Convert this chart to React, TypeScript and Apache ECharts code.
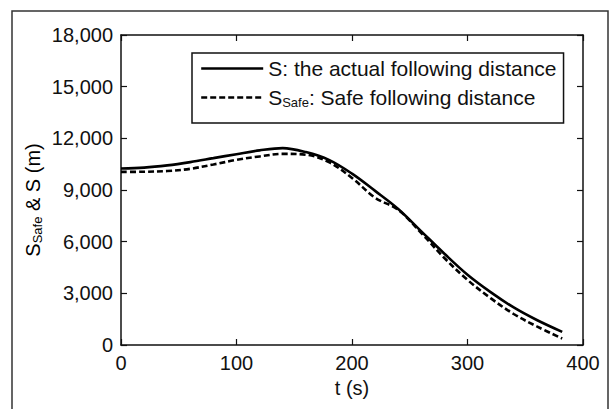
import React, { useEffect, useRef } from "react";
import * as echarts from "echarts";

const tValues = [0, 20, 40, 60, 80, 100, 120, 140, 160, 180, 200, 220, 240, 260, 280, 300, 320, 340, 360, 382];
const sValues = [10250, 10300, 10430, 10620, 10850, 11080, 11300, 11430, 11200, 10750, 9950, 8950, 7900, 6600, 5300, 4080, 3070, 2180, 1450, 760];
const safeValues = [10050, 10060, 10100, 10230, 10480, 10750, 10950, 11100, 11050, 10620, 9700, 8550, 7850, 6500, 5050, 3780, 2720, 1800, 1080, 380];
const xTicks = { min: 0, max: 400, interval: 100 };
const yTicks = { min: 0, max: 18000, interval: 3000 };
const sName = "S: the actual following distance";
const safeName = "SSafe: Safe following distance";

const FONT = "Liberation Sans";
const INK = "#111111";

export default function App() {
  const ref = useRef<HTMLDivElement>(null);
  useEffect(() => {
    if (!ref.current) return;
    const chart = echarts.init(ref.current, undefined, { renderer: "svg" });
    const axisCommon = {
      axisLine: { show: true, onZero: false, lineStyle: { color: INK, width: 1.5 } },
      axisTick: { show: true, inside: true, length: 6, lineStyle: { color: INK, width: 1.2 } },
      splitLine: { show: false },
    };
    chart.setOption({
      animation: false,
      textStyle: { fontFamily: FONT },
      grid: { left: 121, right: 33, top: 35, bottom: 64 },
      xAxis: [
        {
          type: "value",
          ...xTicks,
          ...axisCommon,
          axisLabel: { color: INK, fontSize: 20, fontFamily: FONT, margin: 8 },
          name: "t (s)",
          nameLocation: "middle",
          nameGap: 32,
          nameTextStyle: { color: INK, fontSize: 20, fontFamily: FONT },
        },
        {
          type: "value",
          position: "top",
          ...xTicks,
          ...axisCommon,
          axisLabel: { show: false },
        },
      ],
      yAxis: [
        {
          type: "value",
          ...yTicks,
          ...axisCommon,
          axisLabel: {
            color: INK,
            fontSize: 20,
            fontFamily: FONT,
            margin: 8,
            formatter: (v: number) => v.toLocaleString("en-US"),
          },
        },
        {
          type: "value",
          position: "right",
          ...yTicks,
          ...axisCommon,
          axisLabel: { show: false },
        },
      ],
      legend: {
        orient: "vertical",
        left: 192,
        top: 53,
        backgroundColor: "#fff",
        borderColor: INK,
        borderWidth: 1.5,
        borderRadius: 0,
        padding: [5, 7, 14, 8],
        itemWidth: 62,
        itemHeight: 20,
        itemGap: 8,
        itemStyle: { opacity: 0 },
        lineStyle: { width: 2.4 },
        data: [sName, safeName],
        formatter: (name: string) =>
          name === safeName
            ? "{a|S}{b|Safe}{a|: Safe following distance}"
            : "{a|" + name + "}",
        textStyle: {
          color: INK,
          fontFamily: FONT,
          rich: {
            a: { fontSize: 21, fontFamily: FONT, color: INK },
            b: { fontSize: 13, fontFamily: FONT, color: INK, padding: [10, 0, 0, 0] },
          },
        },
      },
      graphic: [
        {
          type: "rect",
          z: -10,
          silent: true,
          shape: { x: 12, y: 11, width: 596, height: 430 },
          style: { fill: "none", stroke: "#333", lineWidth: 1.5 },
        },
        {
          type: "text",
          x: 33,
          y: 200,
          rotation: Math.PI / 2,
          style: {
            text: "{a|S}{b|Safe}{a| & S (m)}",
            align: "center",
            verticalAlign: "middle",
            fill: "#000",
            rich: {
              a: { fontSize: 20, fontFamily: FONT, fill: "#000" },
              b: { fontSize: 13, fontFamily: FONT, fill: "#000", padding: [9, 0, 0, 0] },
            },
          },
        },
      ],
      series: [
        {
          name: sName,
          type: "line",
          smooth: 0.35,
          symbol: "none",
          data: tValues.map((t, i) => [t, sValues[i]]),
          lineStyle: { color: "#000", width: 2.6, type: "solid" },
          itemStyle: { color: "#000" },
        },
        {
          name: safeName,
          type: "line",
          smooth: 0.35,
          symbol: "none",
          data: tValues.map((t, i) => [t, safeValues[i]]),
          lineStyle: { color: "#000", width: 2.6, type: [6, 3] },
          itemStyle: { color: "#000" },
        },
      ],
    });
    return () => chart.dispose();
  }, []);
  return (
    <div
      ref={ref}
      style={{ position: "fixed", left: 0, top: 0, width: 616, height: 409, background: "#fff" }}
    />
  );
}
